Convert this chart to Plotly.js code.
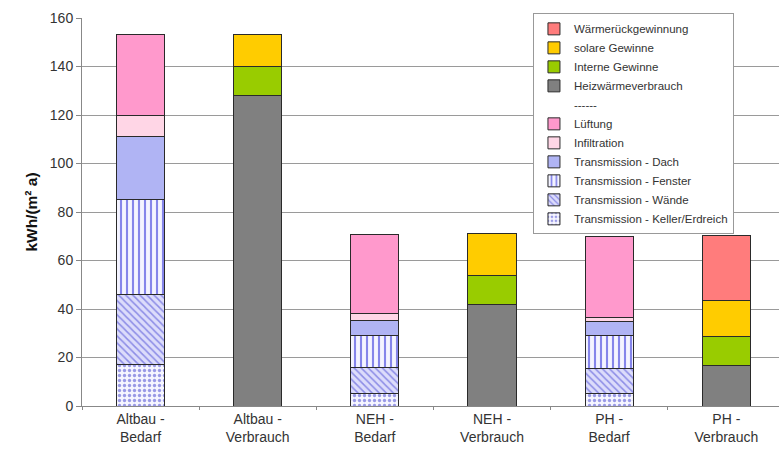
<!DOCTYPE html>
<html><head><meta charset="utf-8">
<script src="https://cdn.plot.ly/plotly-3.0.1.min.js"></script>
<style>html,body{margin:0;padding:0;background:#fff}#chart{width:779px;height:458px}</style>
</head><body><div id="chart"></div>
<script>
const categories = ["Altbau -<br>Bedarf", "Altbau -<br>Verbrauch", "NEH -<br>Bedarf", "NEH -<br>Verbrauch", "PH -<br>Bedarf", "PH -<br>Verbrauch"];
const keller       = [17.3, null, 5.2, null, 5.2, null];
const waende       = [28.7, null, 10.8, null, 10.2, null];
const fenster      = [39.2, null, 13.1, null, 13.7, null];
const dach         = [25.8, null, 6.1, null, 5.9, null];
const infiltration = [9.0, null, 3.0, null, 1.6, null];
const lueftung     = [33.0, null, 32.7, null, 33.5, null];
const heiz         = [null, 128, null, 42, null, 16.5];
const interne      = [null, 12, null, 12, null, 12];
const solar        = [null, 13, null, 17, null, 15];
const wrg          = [null, null, null, null, null, 26.7];
const spacer       = [null, null, null, null, null, null];
const yTicks = [0, 20, 40, 60, 80, 100, 120, 140, 160];

const line = {color: '#2a2a2a', width: 1};
function tr(name, y, marker) {
  return {type: 'bar', name: name, x: categories, y: y, width: 0.41,
    marker: Object.assign({line: line}, marker)};
}
const traces = [
  tr('Transmission - Keller/Erdreich', keller, {color: '#f4f4ff', pattern: {shape: '.', fgcolor: '#9a9ae6', bgcolor: '#f6f6ff', size: 5, solidity: 0.35}}),
  tr('Transmission - Wände', waende, {color: '#d8d8fa', pattern: {shape: '\\', fgcolor: '#8c8ce6', bgcolor: '#dcdcfb', size: 5, solidity: 0.3}}),
  tr('Transmission - Fenster', fenster, {color: '#f0f0ff', pattern: {shape: '|', fgcolor: '#8585ea', bgcolor: '#f4f4ff', size: 6, solidity: 0.35}}),
  tr('Transmission - Dach', dach, {color: '#b0b4f4'}),
  tr('Infiltration', infiltration, {color: '#ffd6e6'}),
  tr('Lüftung', lueftung, {color: '#ff99cc'}),
  {type: 'bar', name: '------', x: categories, y: spacer, width: 0.41,
   marker: {color: 'rgba(0,0,0,0)', line: {width: 0}}},
  tr('Heizwärmeverbrauch', heiz, {color: '#808080'}),
  tr('Interne Gewinne', interne, {color: '#99cc00'}),
  tr('solare Gewinne', solar, {color: '#ffcc00'}),
  tr('Wärmerückgewinnung', wrg, {color: '#ff7c7c'})
];

const layout = {
  width: 779, height: 458,
  margin: {l: 82, r: 0, t: 18, b: 52},
  paper_bgcolor: '#fff', plot_bgcolor: '#fff',
  font: {family: 'Liberation Sans, Arial, sans-serif', color: '#333', size: 14},
  barmode: 'stack',
  showlegend: true,
  legend: {x: 0.647, y: 1.012, xanchor: 'left', yanchor: 'top',
    traceorder: 'reversed', bgcolor: '#fff', bordercolor: '#999', borderwidth: 1,
    font: {size: 11.5, color: '#333'}, tracegroupgap: 0, itemwidth: 30},
  xaxis: {range: [-0.5, 5.45], showgrid: false, showline: true, linecolor: '#888',
    ticks: 'outside', tickson: 'boundaries', ticklen: 3, tickcolor: '#888',
    tickfont: {size: 14, color: '#333'}, fixedrange: true},
  yaxis: {range: [0, 160], tickvals: yTicks, ticktext: yTicks.map(String),
    showgrid: true, gridcolor: '#9a9a9a', gridwidth: 1,
    showline: true, linecolor: '#888', ticks: 'outside', ticklen: 5, tickcolor: '#888',
    tickfont: {size: 14, color: '#333'}, zeroline: false,
    title: {text: 'kWh/(m² a)', font: {size: 15.5, color: '#111', weight: 'bold'}, standoff: 8}}
};
Plotly.newPlot('chart', traces, layout, {displayModeBar: false, staticPlot: true});
</script></body></html>
